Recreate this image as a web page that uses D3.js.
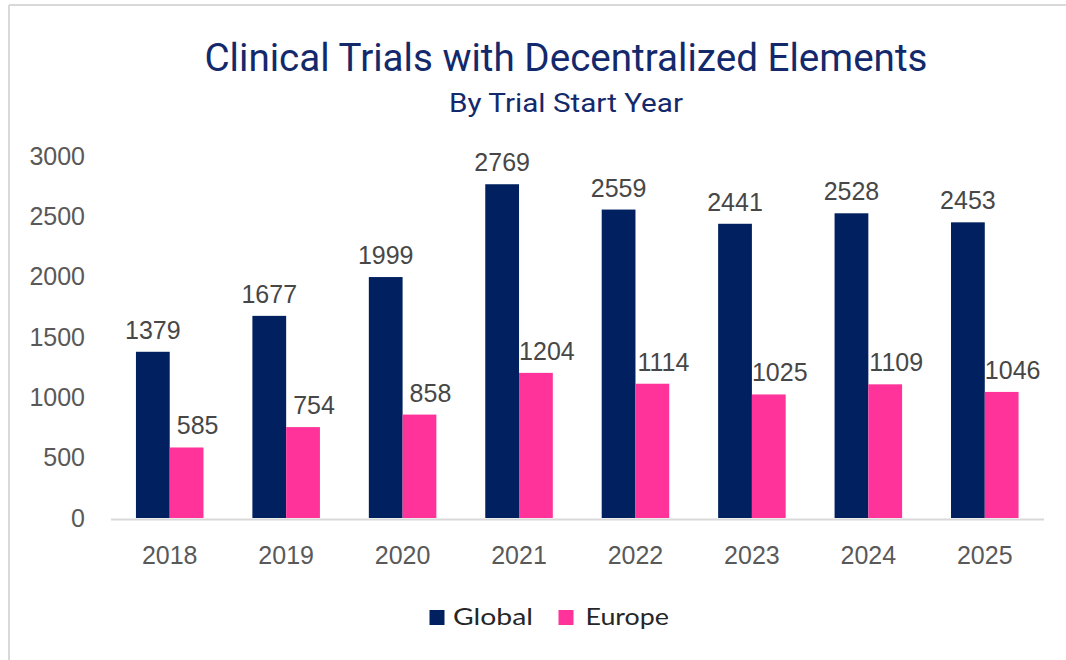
<!DOCTYPE html>
<html>
<head>
<meta charset="utf-8">
<script src="https://cdn.jsdelivr.net/npm/d3@7"></script>
<style>
  html, body { margin: 0; padding: 0; background: #fff; }
  svg { display: block; }
</style>
</head>
<body>
<svg id="chart" width="1066" height="660"></svg>
<script>
const years = ["2018", "2019", "2020", "2021", "2022", "2023", "2024", "2025"];
const seriesNames = ["Global", "Europe"];
const globalValues = [1379, 1677, 1999, 2769, 2559, 2441, 2528, 2453];
const europeValues = [585, 754, 858, 1204, 1114, 1025, 1109, 1046];
const yTicks = [0, 500, 1000, 1500, 2000, 2500, 3000];
const titleText = "Clinical Trials with Decentralized Elements";
const subtitleText = "By Trial Start Year";

const colors = { Global: "#002060", Europe: "#FF3399" };
const numFont = "'Liberation Sans', Arial, sans-serif";
const narrowFont = "Roboto, sans-serif";

const svg = d3.select("#chart");

// frame lines (top and left)
svg.append("line").attr("x1", 9).attr("x2", 1066).attr("y1", 5).attr("y2", 5)
  .attr("stroke", "#D9D9D9").attr("stroke-width", 2);
svg.append("line").attr("x1", 9).attr("x2", 9).attr("y1", 5).attr("y2", 660)
  .attr("stroke", "#D9D9D9").attr("stroke-width", 2);

// title
svg.append("text").text(titleText)
  .attr("x", 566).attr("y", 71).attr("text-anchor", "middle")
  .attr("font-family", narrowFont).attr("font-size", 38).attr("font-weight", 400)
  .attr("fill", "#13296B")
  .attr("textLength", 723).attr("lengthAdjust", "spacingAndGlyphs");
svg.append("text").text(subtitleText)
  .attr("x", 566).attr("y", 112).attr("text-anchor", "middle")
  .attr("font-family", narrowFont).attr("font-size", 26).attr("font-weight", 400)
  .attr("fill", "#13296B")
  .attr("textLength", 234).attr("lengthAdjust", "spacingAndGlyphs");

const x0 = d3.scaleBand().domain(years).range([111.5, 1043]).paddingInner(0.42).paddingOuter(0.21);
const x1 = d3.scaleBand().domain(seriesNames).range([0, x0.bandwidth()]);
const y = d3.scaleLinear().domain([0, 3000]).range([518, 156.4]);

const data = years.map((yr, i) => ({ year: yr, Global: globalValues[i], Europe: europeValues[i] }));

// y axis labels
const yAxis = svg.append("g").attr("transform", "translate(88,0)")
  .call(d3.axisLeft(y).tickValues(yTicks).tickSize(0).tickPadding(3).tickFormat(d3.format("d")));
yAxis.select(".domain").remove();
yAxis.selectAll("text").attr("font-family", numFont).attr("font-size", 25).attr("fill", "#595959");

// bars
const groups = svg.append("g").selectAll("g").data(data).join("g")
  .attr("transform", d => `translate(${x0(d.year)},0)`);

groups.selectAll("rect").data(d => seriesNames.map(s => ({ key: s, value: d[s] }))).join("rect")
  .attr("x", d => x1(d.key))
  .attr("width", x1.bandwidth())
  .attr("y", d => y(d.value))
  .attr("height", d => y(0) - y(d.value))
  .attr("fill", d => colors[d.key]);

groups.selectAll("text.lbl").data(d => seriesNames.map(s => ({ key: s, value: d[s] }))).join("text")
  .attr("class", "lbl")
  .attr("x", d => x1(d.key) + x1.bandwidth() / 2 + (d.key === "Europe" ? 11 : 0))
  .attr("y", d => y(d.value) - 13)
  .attr("text-anchor", "middle")
  .attr("font-family", numFont).attr("font-size", 25).attr("fill", "#474747")
  .text(d => d.value);

// x axis
const xAxis = svg.append("g").attr("transform", "translate(0,518)")
  .call(d3.axisBottom(x0).tickSize(0).tickPadding(28));
xAxis.select(".domain").remove();
xAxis.selectAll("text").attr("font-family", numFont).attr("font-size", 25).attr("fill", "#595959");
svg.append("line").attr("x1", 111).attr("x2", 1044).attr("y1", 519.5).attr("y2", 519.5)
  .attr("stroke", "#D9D9D9").attr("stroke-width", 2);

// legend
const legendFont = "Lato, 'Open Sans', sans-serif";
const legendItems = [
  { key: "Global", sx: 429.5, tx: 453, tl: 80 },
  { key: "Europe", sx: 558.5, tx: 585.5, tl: 83.5 }
];
const lg = svg.append("g").selectAll("g").data(legendItems).join("g");
lg.append("rect").attr("x", d => d.sx).attr("y", 610).attr("width", 15).attr("height", 15)
  .attr("fill", d => colors[d.key]);
lg.append("text").attr("x", d => d.tx).attr("y", 625)
  .attr("font-family", legendFont).attr("font-size", 23).attr("fill", "#262626")
  .attr("textLength", d => d.tl).attr("lengthAdjust", "spacingAndGlyphs")
  .text(d => d.key);
</script>
</body>
</html>
